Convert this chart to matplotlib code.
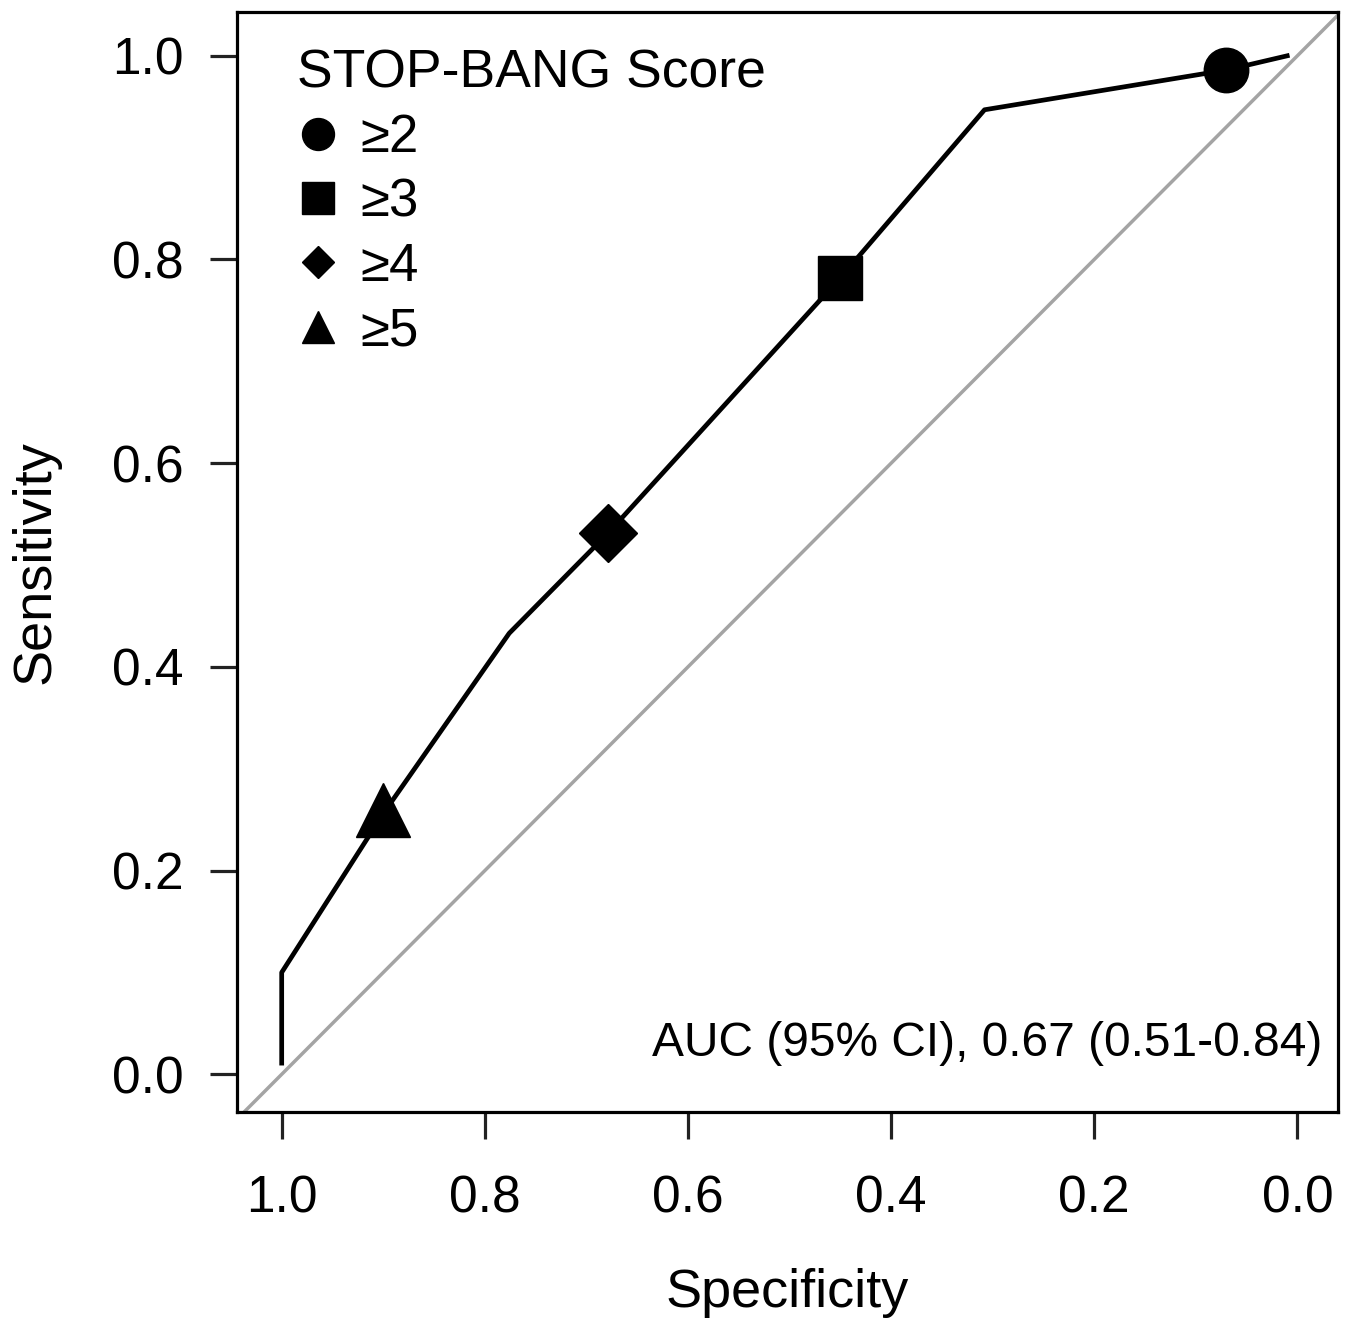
import matplotlib

matplotlib.use("Agg")
import matplotlib.pyplot as plt
from matplotlib.lines import Line2D

plt.rcParams["font.family"] = ["Liberation Sans", "DejaVu Sans"]

# ROC curve vertices (specificity, sensitivity)
roc_spec = [1.0, 1.0, 0.90, 0.776, 0.679, 0.450, 0.308, 0.070, 0.010]
roc_sens = [0.011, 0.100, 0.256, 0.433, 0.531, 0.782, 0.947, 0.986, 1.000]

# cut-off points marked on the curve
cut_labels = ["≥2", "≥3", "≥4", "≥5"]
cut_spec = [0.070, 0.450, 0.679, 0.900]
cut_sens = [0.986, 0.782, 0.531, 0.260]
cut_markers = ["o", "s", "D", "^"]
cut_ms = [32, 32, 30, 39]
legend_ms = [23, 23, 16, 23]

x_ticks = [1.0, 0.8, 0.6, 0.4, 0.2, 0.0]
y_ticks = [0.0, 0.2, 0.4, 0.6, 0.8, 1.0]
auc_text = "AUC (95% CI), 0.67 (0.51-0.84)"

W, H = 1355, 1318
fig = plt.figure(figsize=(W / 100, H / 100), dpi=100)
ax = fig.add_axes([237 / W, 1 - 1112 / H, (1338 - 237) / W, (1112 - 12) / H])

ax.axline((1, 0), (0, 1), color="#a4a4a4", lw=2.5, zorder=1)
ax.plot(roc_spec, roc_sens, color="black", lw=3.4, zorder=2)
for sx, sy, m, ms in zip(cut_spec, cut_sens, cut_markers, cut_ms):
    ax.plot(sx, sy, marker=m, ms=ms, color="black", ls="none", zorder=3)

ax.set_xlim(1.044, -0.04)
ax.set_ylim(-0.037, 1.043)
ax.set_xticks(x_ticks)
ax.set_yticks(y_ticks)
ax.set_xticklabels([f"{v:.1f}" for v in x_ticks])
ax.set_yticklabels([f"{v:.1f}" for v in y_ticks])

for s in ax.spines.values():
    s.set_linewidth(2.3)
ax.tick_params(axis="both", length=19.5, width=2.3, labelsize=37, color="#222222")
ax.tick_params(axis="x", pad=25.5)
ax.tick_params(axis="y", pad=19)

ax.set_xlabel("Specificity", fontsize=39, labelpad=32)
ax.set_ylabel("Sensitivity", fontsize=39, labelpad=37)

ax.text(0.986, 0.062, auc_text, transform=ax.transAxes, ha="right", va="center", fontsize=34.5)

handles = [
    Line2D([], [], marker=m, ms=ms, color="black", ls="none")
    for m, ms in zip(cut_markers, legend_ms)
]
leg = ax.legend(
    handles, cut_labels, title="STOP-BANG Score", loc="upper left",
    bbox_to_anchor=(297 / W, 1 - 49 / H), bbox_transform=fig.transFigure,
    frameon=False, fontsize=38, title_fontsize=38.5, borderpad=0, borderaxespad=0,
    handlelength=0.8, handletextpad=0.4, labelspacing=0.27, alignment="left",
)

fig.savefig("out.png", dpi=100, facecolor="white")
